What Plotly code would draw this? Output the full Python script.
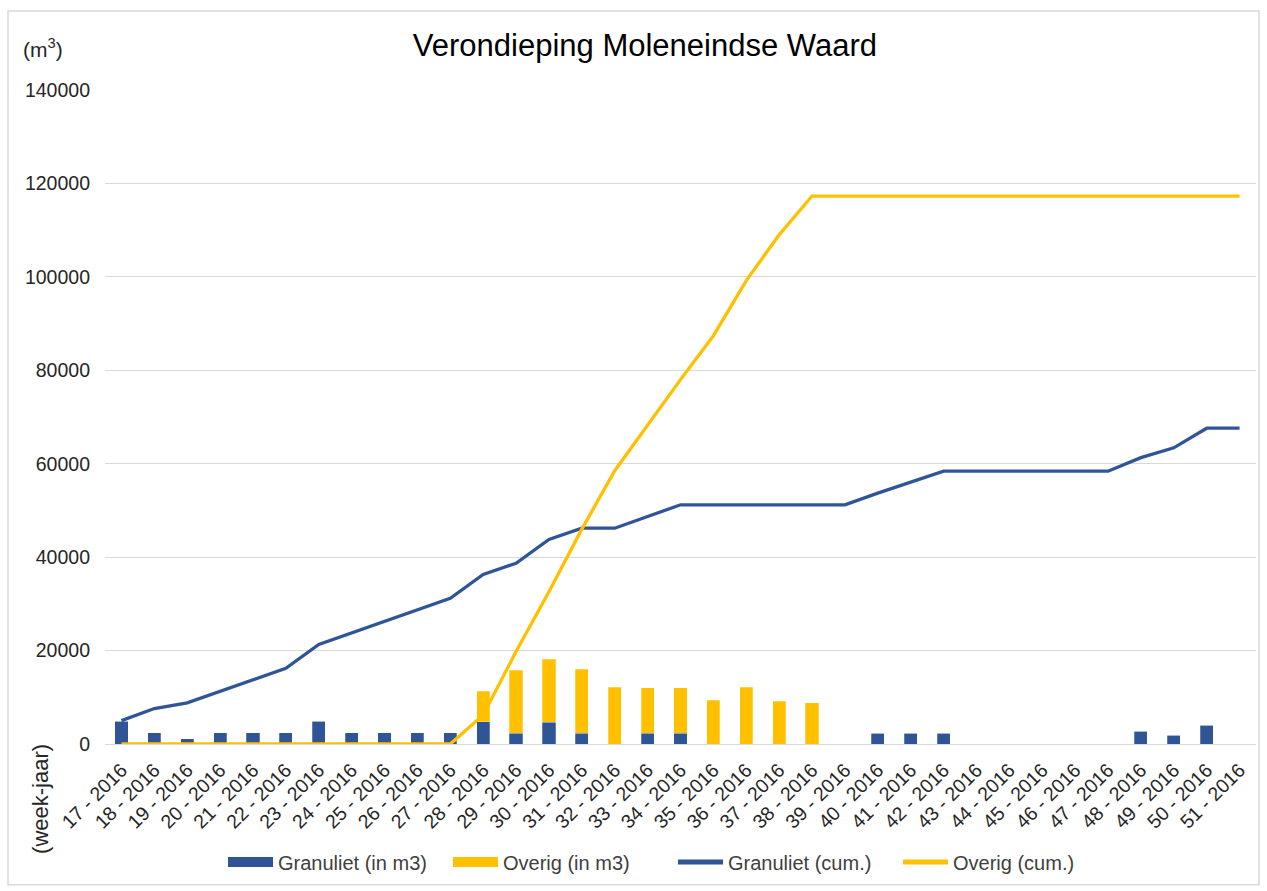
import plotly.graph_objects as go

weeks = ["17 - 2016", "18 - 2016", "19 - 2016", "20 - 2016", "21 - 2016", "22 - 2016",
         "23 - 2016", "24 - 2016", "25 - 2016", "26 - 2016", "27 - 2016", "28 - 2016",
         "29 - 2016", "30 - 2016", "31 - 2016", "32 - 2016", "33 - 2016", "34 - 2016",
         "35 - 2016", "36 - 2016", "37 - 2016", "38 - 2016", "39 - 2016", "40 - 2016",
         "41 - 2016", "42 - 2016", "43 - 2016", "44 - 2016", "45 - 2016", "46 - 2016",
         "47 - 2016", "48 - 2016", "49 - 2016", "50 - 2016", "51 - 2016"]

granuliet = [4900, 2400, 1100, 2400, 2400, 2400, 4900, 2400, 2400, 2400, 2400,
             4800, 2300, 4700, 2300, 0, 2300, 2300,
             0, 0, 0, 0, 0,
             2300, 2300, 2300,
             0, 0, 0, 0, 0,
             2700, 1900, 4000, 0]

overig = [0, 0, 0, 0, 0, 0, 0, 0, 0, 0, 0,
          6500, 13500, 13400, 13700, 12100, 9700, 9700, 9400, 12100, 9200, 8800,
          0, 0, 0, 0, 0, 0, 0, 0, 0, 0, 0, 0, 0]

granuliet_cum = [5000, 7600, 8800, 11300, 13800, 16200, 21300, 23800, 26300, 28700, 31200,
                 36300, 38700, 43800, 46200, 46200, 48700, 51200,
                 51200, 51200, 51200, 51200, 51200,
                 53700, 56000, 58400,
                 58400, 58400, 58400, 58400, 58400,
                 61300, 63400, 67600, 67600]

overig_cum = [0, 0, 0, 0, 0, 0, 0, 0, 0, 0, 0,
              6200, 19800, 32600, 46000, 58500, 68200, 78000, 87400, 99200, 109000, 117300,
              117300, 117300, 117300, 117300, 117300, 117300, 117300, 117300, 117300,
              117300, 117300, 117300, 117300]

BLUE = "#2F5597"
YELLOW = "#FFC000"
FONT = "Liberation Sans, Arial, sans-serif"

fig = go.Figure()
fig.add_trace(go.Bar(x=weeks, y=granuliet, name="Granuliet (in m3)", showlegend=False,
                     legendgroup="g1",
                     marker=dict(color=BLUE, line=dict(color="rgba(255,255,255,0.5)", width=0.5))))
fig.add_trace(go.Bar(x=weeks, y=overig, name="Overig (in m3)", showlegend=False,
                     legendgroup="g2",
                     marker=dict(color=YELLOW, line=dict(color="rgba(255,255,255,0.5)", width=0.5))))
fig.add_trace(go.Scatter(x=weeks, y=granuliet_cum, name="Granuliet (cum.)", mode="lines",
                         showlegend=False, legendgroup="g3",
                         line=dict(color=BLUE, width=3.3)))
fig.add_trace(go.Scatter(x=weeks, y=overig_cum, name="Overig (cum.)", mode="lines",
                         showlegend=False, legendgroup="g4",
                         line=dict(color=YELLOW, width=3.3)))

# legend-only entries (wide swatches like the reference)
for nm, col, w, grp in [("Granuliet (in m3)", BLUE, 12, "g1"),
                        ("Overig (in m3)", YELLOW, 12, "g2"),
                        ("Granuliet (cum.)", BLUE, 5, "g3"),
                        ("Overig (cum.)", YELLOW, 5, "g4")]:
    fig.add_trace(go.Scatter(x=[None], y=[None], name=nm, mode="lines", legendgroup=grp,
                             line=dict(color=col, width=w), showlegend=True))

L, R, T, B = 105, 11, 90, 146
W, H = 1267, 891
pw, ph = W - L - R, H - T - B

def px(xpix):
    return (xpix - L) / pw

def py(ypix):
    return (H - B - ypix) / ph

fig.update_layout(
    width=W, height=H,
    margin=dict(l=L, r=R, t=T, b=B),
    paper_bgcolor="white", plot_bgcolor="white",
    barmode="stack", bargap=0.6,
    font=dict(family=FONT, size=19.5, color="#262626"),
    title=dict(text="Verondieping Moleneindse Waard", x=0.509, xanchor="center",
               y=1 - 45 / H, yanchor="middle",
               font=dict(family=FONT, size=31, color="#000000")),
    showlegend=True,
    legend=dict(orientation="h", x=px(673), xanchor="center", y=py(862), yanchor="middle",
                font=dict(family=FONT, size=20, color="#404040"),
                itemwidth=45, entrywidth=165, entrywidthmode="pixels",
                traceorder="normal", bgcolor="rgba(0,0,0,0)"),
    xaxis=dict(type="category", tickangle=-45, showgrid=False, showline=True,
               linecolor="#d9d9d9", linewidth=1, ticks="", ticklabelstandoff=6,
               tickfont=dict(family=FONT, size=19.5, color="#262626")),
    yaxis=dict(range=[0, 140000], dtick=20000, tickformat="d", showgrid=True,
               gridcolor="#d9d9d9", gridwidth=1, zeroline=False, showline=False,
               ticks="", ticklabelstandoff=14,
               tickfont=dict(family=FONT, size=19.5, color="#262626")),
    annotations=[
        dict(text="(m<sup>3</sup>)", xref="paper", yref="paper", x=px(21), y=py(48),
             xanchor="left", yanchor="middle", showarrow=False,
             font=dict(family=FONT, size=21, color="#262626")),
        dict(text="(week-jaar)", xref="paper", yref="paper", x=px(41), y=py(800),
             xanchor="center", yanchor="middle", showarrow=False, textangle=-90,
             font=dict(family=FONT, size=22, color="#262626")),
    ],
    shapes=[
        dict(type="rect", xref="paper", yref="paper", x0=px(8), x1=px(1259), y0=py(886), y1=py(11),
             line=dict(color="#d9d9d9", width=1.5), fillcolor="rgba(0,0,0,0)", layer="below"),
    ],
)

fig.write_html("out.html", config={"displayModeBar": False},
               post_script="document.body.style.margin='0';")
